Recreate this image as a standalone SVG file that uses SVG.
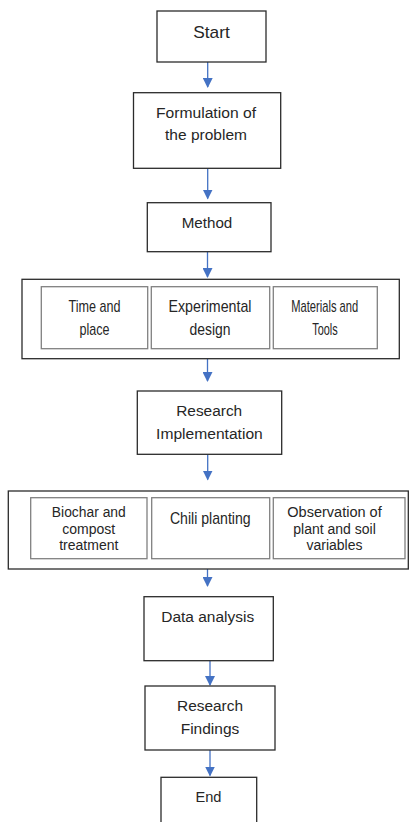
<svg xmlns="http://www.w3.org/2000/svg" width="409" height="822" viewBox="0 0 409 822">
<style>
.box{fill:#fff;stroke:#2b2b2b;stroke-width:1.3}
.inner{fill:#fff;stroke:#808080;stroke-width:1.3}
text{font-family:"Liberation Sans",Arial,sans-serif;fill:#262626;text-anchor:middle}
.t{font-size:15.5px}
.n{font-size:17px}
.s{font-size:14px}
.c{stroke:#4472C4;stroke-width:1.3;fill:none}
</style>
<defs>
<marker id="ah" markerWidth="10" markerHeight="10" refX="9" refY="5" orient="auto" markerUnits="userSpaceOnUse">
<path d="M0,0 L10,5 L0,10 Z" fill="#4472C4"/>
</marker>
</defs>
<rect width="409" height="822" fill="#fff"/>
<g id="connectors">
<line class="c" x1="207.7" y1="62" x2="207.7" y2="87" marker-end="url(#ah)"/>
<line class="c" x1="207.7" y1="168.5" x2="207.7" y2="198.5" marker-end="url(#ah)"/>
<line class="c" x1="207.5" y1="252" x2="207.5" y2="277" marker-end="url(#ah)"/>
<line class="c" x1="207.5" y1="359" x2="207.5" y2="381" marker-end="url(#ah)"/>
<line class="c" x1="207.7" y1="454.5" x2="207.7" y2="479.5" marker-end="url(#ah)"/>
<line class="c" x1="207.5" y1="569" x2="207.5" y2="586" marker-end="url(#ah)"/>
<line class="c" x1="210" y1="661" x2="210" y2="685" marker-end="url(#ah)"/>
<line class="c" x1="210" y1="750" x2="210" y2="775.5" marker-end="url(#ah)"/>
</g>
<g id="start">
<rect class="box" x="157" y="11" width="109" height="51"/>
<text x="211.5" y="37.5" style="font-size:17px" textLength="36.5" lengthAdjust="spacingAndGlyphs">Start</text>
</g>
<g id="formulation">
<rect class="box" x="133.5" y="92.7" width="147.2" height="75.6"/>
<text class="t" x="206" y="117.8" textLength="100" lengthAdjust="spacingAndGlyphs">Formulation of</text>
<text class="t" x="206" y="139.5">the problem</text>
</g>
<g id="method">
<rect class="box" x="147.3" y="202.7" width="123.7" height="49"/>
<text class="t" x="207" y="228.2" textLength="50.6" lengthAdjust="spacingAndGlyphs">Method</text>
</g>
<g id="method-group">
<rect class="box" x="22" y="279.3" width="377.3" height="79.4"/>
<g id="time-place">
<rect class="inner" x="41.3" y="286.7" width="106.4" height="62"/>
<text class="n" x="94.5" y="312.3" textLength="52" lengthAdjust="spacingAndGlyphs">Time and</text>
<text class="n" x="94.5" y="334.8" textLength="30" lengthAdjust="spacingAndGlyphs">place</text>
</g>
<g id="experimental-design">
<rect class="inner" x="151.3" y="286.7" width="118.4" height="62"/>
<text class="n" x="210" y="312.3" textLength="83" lengthAdjust="spacingAndGlyphs">Experimental</text>
<text class="n" x="210" y="334.8" textLength="41" lengthAdjust="spacingAndGlyphs">design</text>
</g>
<g id="materials-tools">
<rect class="inner" x="273.3" y="286.7" width="104" height="62"/>
<text class="n" x="324.7" y="312.3" textLength="67" lengthAdjust="spacingAndGlyphs">Materials and</text>
<text class="n" x="325" y="334.8" textLength="25.5" lengthAdjust="spacingAndGlyphs">Tools</text>
</g>
</g>
<g id="research-implementation">
<rect class="box" x="137.3" y="391" width="144.4" height="63.3"/>
<text class="t" x="209.2" y="416.2" textLength="66" lengthAdjust="spacingAndGlyphs">Research</text>
<text class="t" x="209.4" y="438.8" textLength="106.7" lengthAdjust="spacingAndGlyphs">Implementation</text>
</g>
<g id="implementation-group">
<rect class="box" x="8.3" y="491" width="400" height="78"/>
<g id="biochar">
<rect class="inner" x="30.7" y="497.7" width="116.3" height="61"/>
<text class="s" x="88.8" y="517.3" textLength="74" lengthAdjust="spacingAndGlyphs">Biochar and</text>
<text class="s" x="88.8" y="534">compost</text>
<text class="s" x="88.8" y="550">treatment</text>
</g>
<g id="chili">
<rect class="inner" x="151.7" y="497.7" width="118" height="61"/>
<text class="n" x="210.3" y="523.5" textLength="80.7" lengthAdjust="spacingAndGlyphs">Chili planting</text>
</g>
<g id="observation">
<rect class="inner" x="273.3" y="497.7" width="131.7" height="61"/>
<text class="s" x="334.5" y="517.3" textLength="94.4" lengthAdjust="spacingAndGlyphs">Observation of</text>
<text class="s" x="334.5" y="534">plant and soil</text>
<text class="s" x="334.5" y="550">variables</text>
</g>
</g>
<g id="data-analysis">
<rect class="box" x="144" y="596.7" width="129.3" height="64"/>
<text class="t" x="207.7" y="621.5" textLength="93" lengthAdjust="spacingAndGlyphs">Data analysis</text>
</g>
<g id="research-findings">
<rect class="box" x="145" y="686" width="130" height="64"/>
<text class="t" x="210" y="711.2" textLength="66" lengthAdjust="spacingAndGlyphs">Research</text>
<text class="t" x="210" y="733.8">Findings</text>
</g>
<g id="end">
<rect class="box" x="161" y="777.3" width="95.7" height="60"/>
<text class="t" x="208.5" y="802.2" textLength="26" lengthAdjust="spacingAndGlyphs">End</text>
</g>
</svg>
